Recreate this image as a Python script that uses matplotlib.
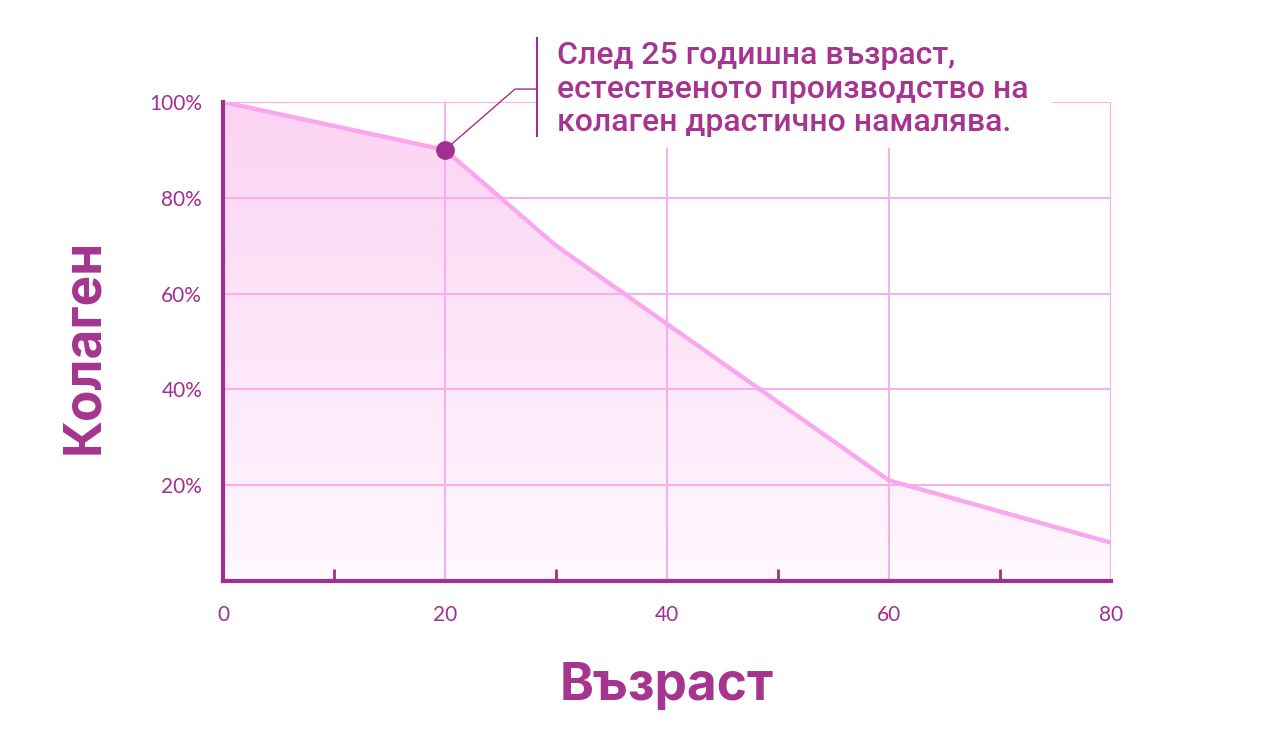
import numpy as np
import matplotlib
matplotlib.use("Agg")
import matplotlib.pyplot as plt
from matplotlib.colors import LinearSegmentedColormap
from matplotlib.patches import Rectangle
from matplotlib.lines import Line2D

# ---- data ----
age = [0, 20, 30, 60, 80]
collagen = [100, 90, 70, 21, 8]
x_ticks = [0, 20, 40, 60, 80]
x_minor = [10, 30, 50, 70]
y_ticks = [20, 40, 60, 80, 100]
y_tick_labels = ["20%", "40%", "60%", "80%", "100%"]
highlight_age = 20
highlight_value = 90
annotation = "След 25 годишна възраст,\nестественото производство на\nколаген драстично намалява."
x_label = "Възраст"
y_label = "Колаген"

PURPLE = "#a02f92"
TEXT = "#a5358f"
PINK = "#f9a8ee"
GRID = "#f6b0ef"

fig = plt.figure(figsize=(12.83, 7.52), dpi=100)
ax = fig.add_axes([223/1283, 1-581/752, 888/1283, 479/752])
ax.set_xlim(0, 80)
ax.set_ylim(0, 100)

# gradient fill under the line
poly = ax.fill_between(age, collagen, 0, color="none", lw=0)
cmap = LinearSegmentedColormap.from_list("g", ["#fff8fe", "#fcd3f3"])
grad = np.linspace(0, 1, 256).reshape(-1, 1)
im = ax.imshow(grad, extent=[0, 80, 0, 100], origin="lower", aspect="auto",
               cmap=cmap, zorder=1)
path = poly.get_paths()[0]
im.set_clip_path(path, transform=ax.transData)

ax.plot(age, collagen, color=PINK, lw=3.2, zorder=3, solid_joinstyle="round")

# grid
ax.set_xticks(x_ticks)
ax.set_xticks(x_minor, minor=True)
ax.set_yticks(y_ticks)
ax.set_yticklabels(y_tick_labels)
ax.grid(True, which="major", color=GRID, lw=1.5)
ax.set_axisbelow(False)  # axis/grid at zorder 2.5, above the fill

for s in ["top", "right"]:
    ax.spines[s].set_visible(False)
for s in ["left", "bottom"]:
    ax.spines[s].set_color(PURPLE)
    ax.spines[s].set_linewidth(3)
    ax.spines[s].set_zorder(5)

ax.tick_params(which="major", length=0, pad=15, labelcolor=PURPLE, labelsize=15)
ax.tick_params(axis="x", which="major", pad=17)
ax.tick_params(axis="x", which="minor", direction="in", length=9, width=2,
               color=PURPLE)
ax.tick_params(axis="y", which="minor", length=0)
for lab in ax.get_xticklabels() + ax.get_yticklabels():
    lab.set_fontfamily(["Lato", "DejaVu Sans"])

# white box behind annotation text (hides grid)
ax.add_patch(Rectangle((0.3536, 0.904), 0.58, 0.35, transform=ax.transAxes,
                       facecolor="white", edgecolor="none", zorder=2.7,
                       clip_on=False))

# highlight point and connector
ax.plot([highlight_age], [highlight_value], "o", color=PURPLE, ms=12.5, zorder=6)
ax.add_line(Line2D([highlight_age / 80, 0.3288, 0.3536], [highlight_value / 100, 1.027, 1.027],
                   transform=ax.transAxes, color=PURPLE, lw=1.0, zorder=6, clip_on=False))
ax.add_line(Line2D([0.3536, 0.3536], [0.929, 1.1336], transform=ax.transAxes,
                   color=PURPLE, lw=1.5, zorder=6, clip_on=False))
ax.text(0.376, 1.027, annotation, transform=ax.transAxes, ha="left", va="center",
        fontsize=23, color=TEXT, family=["Roboto", "DejaVu Sans"], weight="medium",
        linespacing=1.18, zorder=7)

# axis labels
fig.text(667/1283, 1-687/752, x_label, ha="center", va="center", fontsize=37,
         color=TEXT, family=["Inter", "DejaVu Sans"], weight="bold")
fig.text(85/1283, 1-346/752, y_label, ha="center", va="center", fontsize=37,
         color=TEXT, family=["Inter", "DejaVu Sans"], weight="bold", rotation=90)

fig.savefig("out.png", dpi=100)
